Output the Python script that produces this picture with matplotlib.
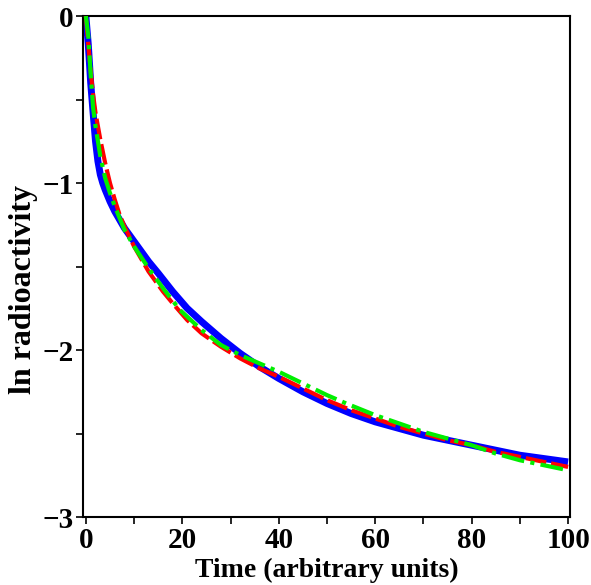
import matplotlib
matplotlib.use("Agg")
import matplotlib.pyplot as plt
from matplotlib.ticker import MultipleLocator, FuncFormatter

# ---- data ----
t_blue = [0, 0.5, 1, 1.5, 2, 2.5, 3, 3.5, 4, 5, 6, 8, 10, 13, 15, 18, 21, 24, 28,
          32, 36, 40, 45, 50, 55, 60, 65, 70, 75, 80, 85, 90, 95, 100]
ln_blue = [0, -0.17, -0.40, -0.58, -0.75, -0.87, -0.95, -1.00, -1.04, -1.11, -1.17,
           -1.27, -1.35, -1.47, -1.54, -1.65, -1.75, -1.83, -1.93, -2.02, -2.10,
           -2.17, -2.25, -2.32, -2.38, -2.43, -2.47, -2.51, -2.54, -2.57, -2.60,
           -2.63, -2.65, -2.67]

t_red = [0, 0.5, 1, 1.5, 2, 3, 4, 5, 6, 7, 8, 10, 13, 16, 18, 21, 24, 28, 32, 36,
         40, 45, 50, 55, 60, 65, 70, 75, 80, 85, 90, 95, 100]
ln_red = [0, -0.17, -0.33, -0.47, -0.58, -0.74, -0.88, -1.00, -1.10, -1.19, -1.26,
          -1.38, -1.53, -1.65, -1.72, -1.82, -1.90, -1.98, -2.05, -2.11, -2.16,
          -2.23, -2.30, -2.36, -2.41, -2.46, -2.50, -2.54, -2.57, -2.61, -2.64,
          -2.67, -2.70]

t_green = [0, 0.5, 1, 1.5, 2, 3, 4, 5, 6, 8, 10, 13, 16, 19.5, 24, 28, 32, 36, 40,
           45, 50, 54, 60, 65, 70, 75, 80, 85, 90, 95, 100]
ln_green = [0, -0.12, -0.35, -0.55, -0.66, -0.84, -0.97, -1.06, -1.14, -1.28, -1.38,
            -1.51, -1.63, -1.76, -1.88, -1.97, -2.03, -2.08, -2.13, -2.20, -2.27,
            -2.32, -2.39, -2.44, -2.49, -2.53, -2.57, -2.62, -2.66, -2.69, -2.72]

x_ticks = [0, 20, 40, 60, 80, 100]
y_ticks = [0, -1, -2, -3]
x_label = "Time (arbitrary units)"
y_label = "ln radioactivity"

plt.rcParams['font.family'] = ['Liberation Serif', 'DejaVu Serif']
plt.rcParams['font.weight'] = 'bold'

fig = plt.figure(figsize=(5.91, 5.85), dpi=100)
ax = fig.add_axes([0.1404, 0.1162, 0.9645 - 0.1404, 0.9726 - 0.1162])

ax.plot(t_blue, ln_blue, color='#0000ff', lw=5.0, solid_capstyle='butt',
        solid_joinstyle='round', zorder=2)
ax.plot(t_red, ln_red, color='#ff0000', lw=3.0, dashes=(5, 1.2), zorder=3)
ax.plot(t_green, ln_green, color='#00ee00', lw=3.0, dashes=(5.5, 1.5, 1, 1.5), zorder=4)

ax.set_xlim(-0.6, 100.4)
ax.set_ylim(-3, 0)
ax.set_xticks(x_ticks)
ax.set_yticks(y_ticks)
ax.xaxis.set_minor_locator(MultipleLocator(10))
ax.yaxis.set_minor_locator(MultipleLocator(0.5))
ax.yaxis.set_major_formatter(FuncFormatter(lambda v, p: ("\u2212%d" % abs(v)) if v < 0 else "%d" % v))
ax.tick_params(which='both', direction='out', top=False, right=False, width=1.2,
               labelsize=21, pad=2)
ax.tick_params(which='major', length=5)
ax.tick_params(which='minor', length=5)
for lab in ax.get_xticklabels() + ax.get_yticklabels():
    lab.set_fontweight('bold')
for s in ax.spines.values():
    s.set_linewidth(1.5)

ax.set_xlabel(x_label, fontsize=20, fontweight='bold')
ax.xaxis.set_label_coords(0.5, -0.082)
ax.set_ylabel(y_label, fontsize=23, fontweight='bold')
ax.yaxis.set_label_coords(-0.092, 0.455)

fig.savefig("out.png", dpi=100)
